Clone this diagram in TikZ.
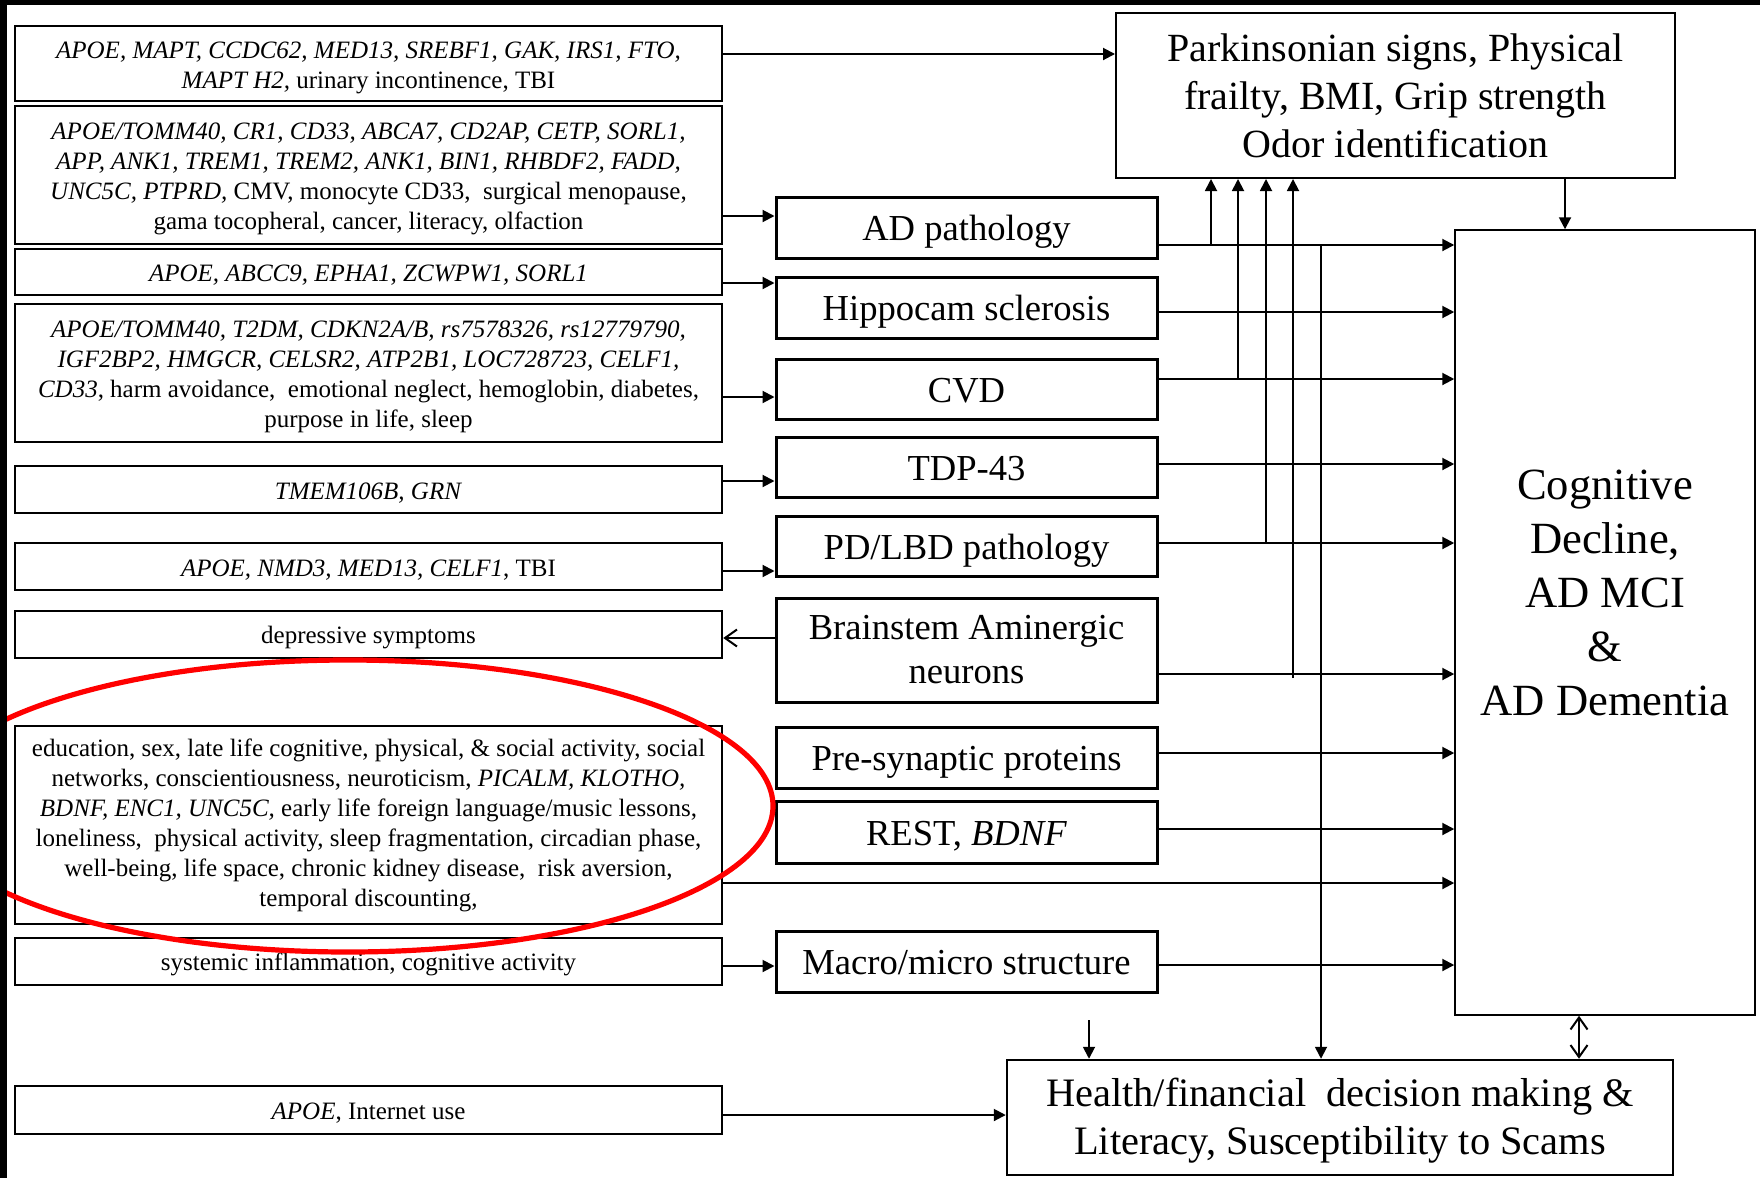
\documentclass[tikz,border=0pt]{standalone}
\usepackage{fontspec}
\setmainfont{Liberation Serif}
\usetikzlibrary{arrows.meta}
\newcommand\firststrut[1]{\rule{0pt}{#1}}
\begin{document}
\begin{tikzpicture}[x=0.5pt,y=-0.5pt,
  lbox/.style={draw, line width=1.25pt, minimum width=353.5pt, align=center, inner sep=0pt,
    font=\fontsize{12.5}{15}\selectfont, execute at begin node={\rule{0pt}{0.95em}}},
  mbox/.style={draw, line width=1.5pt, minimum width=190.5pt, inner sep=0pt,
    font=\fontsize{18.3}{22}\selectfont},
  mone/.style={mbox, text height=16pt, text depth=2.8pt},
  arr/.style={line width=1pt, -{Triangle[length=6pt,width=6pt]}},
  thinarr/.style={line width=0.9pt, -{Triangle[length=6pt,width=6pt]}},
  oarr/.style={line width=1pt, -{Straight Barb[length=6pt,width=8.5pt]}},
  darr/.style={line width=1pt, {Straight Barb[length=6pt,width=8.5pt]}-{Straight Barb[length=6pt,width=8.5pt]}}
]
\useasboundingbox (0,0) rectangle (1760,1178);
\fill[white] (0,0) rectangle (1760,1178);
% frame bars
\fill[black] (0,0) rectangle (1760,5);
\fill[black] (0,0) rectangle (7,1178);

% left boxes
\node[lbox, minimum height=37.5pt] (L1) at (368.5,63.5)
  {\firststrut{1.04em}\textit{APOE, MAPT, CCDC62, MED13, SREBF1, GAK, IRS1, FTO,}\\
   \textit{MAPT H2,} urinary incontinence, TBI};
\node[lbox, minimum height=69pt] (L2) at (368.5,175)
  {\firststrut{0.97em}\textit{APOE/TOMM40, CR1, CD33, ABCA7, CD2AP, CETP, SORL1,}\\
   \textit{APP, ANK1, TREM1, TREM2, ANK1, BIN1, RHBDF2, FADD,}\\
   \textit{UNC5C, PTPRD,} CMV, monocyte CD33,\ \ surgical menopause,\\
   gama tocopheral, cancer, literacy, olfaction};
\node[lbox, minimum height=23pt] (L3) at (368.5,272)
  {\textit{APOE, ABCC9, EPHA1, ZCWPW1, SORL1}};
\node[lbox, minimum height=69pt] (L4) at (368.5,373)
  {\firststrut{0.97em}\textit{APOE/TOMM40, T2DM, CDKN2A/B, rs7578326, rs12779790,}\\
   \textit{IGF2BP2, HMGCR, CELSR2, ATP2B1, LOC728723, CELF1,}\\
   \textit{CD33}, harm avoidance,\ \ emotional neglect, hemoglobin, diabetes,\\
   purpose in life, sleep};
\node[lbox, minimum height=23.5pt] (L5) at (368.5,489.5)
  {\textit{TMEM106B, GRN}};
\node[lbox, minimum height=23.5pt] (L6) at (368.5,566.5)
  {\textit{APOE, NMD3, MED13, CELF1}, TBI};
\node[lbox, minimum height=23.5pt] (L7) at (368.5,634.5)
  {depressive symptoms};
\node[lbox, minimum height=99pt] (L8) at (368.5,825)
  {education, sex, late life cognitive, physical, \& social activity, social\\
   networks, conscientiousness, neuroticism, \textit{PICALM, KLOTHO,}\\
   \textit{BDNF, ENC1, UNC5C,} early life foreign language/music lessons,\\
   loneliness,\ \ physical activity, sleep fragmentation, circadian phase,\\
   well-being, life space, chronic kidney disease,\ \ risk aversion,\\
   temporal discounting,};
\node[lbox, minimum height=23.5pt] (L9) at (368.5,961.5)
  {systemic inflammation, cognitive activity};
\node[lbox, minimum height=24pt] (L10) at (368.5,1110)
  {\textit{APOE}, Internet use};

% middle boxes
\node[mone, minimum height=30.5pt] (AD) at (966.5,227.5) {AD pathology};
\node[mone, minimum height=30.5pt] (HS) at (966.5,307.5) {Hippocam sclerosis};
\node[mone, minimum height=30pt] (CVD) at (966.5,389) {CVD};
\node[mone, minimum height=30pt] (TDP) at (966.5,467) {TDP-43};
\node[mone, minimum height=30pt] (PD) at (966.5,546) {PD/LBD pathology};
\node[mbox, align=center, minimum height=52pt] (BA) at (966.5,650) {Brainstem Aminergic\\neurons};
\node[mone, minimum height=30.5pt] (PS) at (966.5,757.5) {Pre-synaptic proteins};
\node[mone, minimum height=31pt] (RE) at (966.5,832) {REST, \textit{BDNF}};
\node[mone, minimum height=30.5pt] (MM) at (966.5,961.5) {Macro/micro structure};

% right boxes
\node[draw, line width=1pt, minimum width=279.5pt, minimum height=82.5pt, align=center,
  inner sep=0pt, font=\fontsize{20}{24}\selectfont] (PK) at (1395.5,95.5)
  {Parkinsonian signs, Physical\\frailty, BMI, Grip strength\\Odor identification};
\node[draw, line width=0.75pt, minimum width=150pt, minimum height=392.5pt, inner sep=0pt] (CG) at (1605,622.5) {};
\node[align=center, font=\fontsize{22.3}{27}\selectfont] (CGT) at (1605,593)
  {Cognitive\\Decline,\\AD MCI\\\&\\AD Dementia};
\node[draw, line width=1.25pt, minimum width=333pt, minimum height=57.5pt, align=center,
  inner sep=0pt, font=\fontsize{20.2}{24}\selectfont] (HF) at (1340,1117.5)
  {\firststrut{0.86em}Health/financial\ \ decision making \&\\Literacy, Susceptibility to Scams};

% left -> middle
\draw[arr] (L1.east |- 0,54) -- (PK.west |- 0,54);
\draw[arr] (L2.east |- 0,216) -- (AD.west |- 0,216);
\draw[arr] (L3.east |- 0,283) -- (HS.west |- 0,283);
\draw[arr] (L4.east |- 0,397) -- (CVD.west |- 0,397);
\draw[arr] (L5.east |- 0,481) -- (TDP.west |- 0,481);
\draw[arr] (L6.east |- 0,571) -- (PD.west |- 0,571);
\draw[oarr] (BA.west |- 0,638) -- (L7.east |- 0,638);
\draw[arr] (L8.east |- 0,883) -- (CG.west |- 0,883);
\draw[arr] (L9.east |- 0,966) -- (MM.west |- 0,966);
\draw[arr] (L10.east |- 0,1115) -- (HF.west |- 0,1115);

% middle -> cognitive
\draw[arr] (AD.east |- 0,245) -- (CG.west |- 0,245);
\draw[arr] (HS.east |- 0,312) -- (CG.west |- 0,312);
\draw[arr] (CVD.east |- 0,379) -- (CG.west |- 0,379);
\draw[arr] (TDP.east |- 0,464) -- (CG.west |- 0,464);
\draw[arr] (PD.east |- 0,543) -- (CG.west |- 0,543);
\draw[arr] (BA.east |- 0,674) -- (CG.west |- 0,674);
\draw[arr] (PS.east |- 0,753) -- (CG.west |- 0,753);
\draw[arr] (RE.east |- 0,829) -- (CG.west |- 0,829);
\draw[arr] (MM.east |- 0,965) -- (CG.west |- 0,965);

% verticals up to Parkinsonian box
\coordinate (v1) at (1211,245);
\coordinate (v2) at (1238,379);
\coordinate (v3) at (1266,543);
\coordinate (v4) at (1293,678);
\draw[thinarr] (v1) -- (v1 |- PK.south);
\draw[thinarr] (v2) -- (v2 |- PK.south);
\draw[thinarr] (v3) -- (v3 |- PK.south);
\draw[thinarr] (v4) -- (v4 |- PK.south);

% vertical down to Health box
\coordinate (v5) at (1321,245);
\draw[thinarr] (v5) -- (v5 |- HF.north);
\coordinate (v6) at (1089,1020);
\draw[thinarr] (v6) -- (v6 |- HF.north);

% Parkinsonian -> Cognitive
\draw[arr] (PK.south -| 1565,0) -- (CG.north -| 1565,0);
% Cognitive <-> Health
\draw[darr] (CG.south -| 1579,0) -- (HF.north -| 1579,0);

% red ellipse
\begin{scope}
\clip (7,5) rectangle (1760,1178);
\draw[red, line width=2.6pt] (348,806) ellipse [x radius=425, y radius=146];
\end{scope}
\end{tikzpicture}
\end{document}
